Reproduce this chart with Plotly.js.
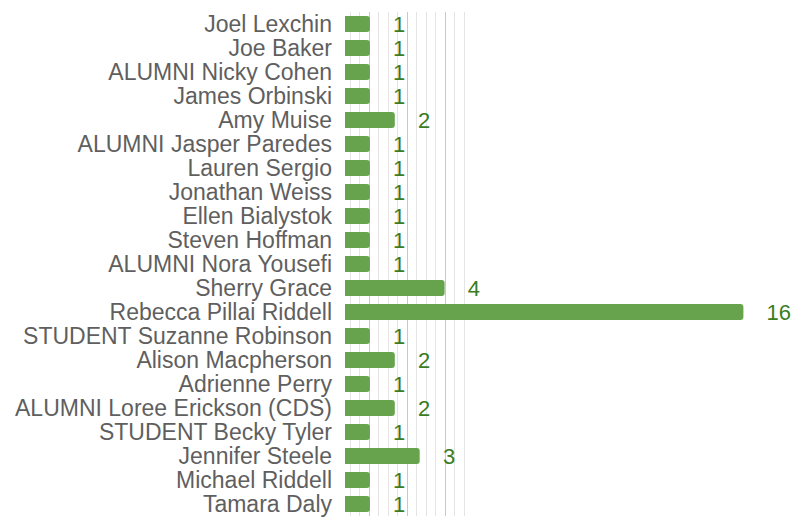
<!DOCTYPE html>
<html>
<head>
<meta charset="utf-8">
<script src="https://cdn.plot.ly/plotly-3.0.1.min.js"></script>
<style>html,body{margin:0;padding:0;background:#fff;}#chart{width:793px;height:517px;}</style>
</head>
<body>
<div id="chart"></div>
<script>
const names = [
  "Joel Lexchin", "Joe Baker", "ALUMNI Nicky Cohen", "James Orbinski", "Amy Muise",
  "ALUMNI Jasper Paredes", "Lauren Sergio", "Jonathan Weiss", "Ellen Bialystok",
  "Steven Hoffman", "ALUMNI Nora Yousefi", "Sherry Grace", "Rebecca Pillai Riddell",
  "STUDENT Suzanne Robinson", "Alison Macpherson", "Adrienne Perry",
  "ALUMNI Loree Erickson (CDS)", "STUDENT Becky Tyler", "Jennifer Steele",
  "Michael Riddell", "Tamara Daly"
];
const counts = [1, 1, 1, 1, 2, 1, 1, 1, 1, 1, 1, 4, 16, 1, 2, 1, 2, 1, 3, 1, 1];

const W = 793, L = 345, R = 0;
const plotW = W - L - R;
const pxPerUnit = 24.9;
const FONT = "Liberation Sans, Arial, sans-serif";

const data = [
  { type: "scatter", x: [], y: [], xaxis: "x", yaxis: "y", hoverinfo: "none", showlegend: false },
  {
    type: "bar",
    orientation: "h",
    y: names,
    x: counts,
    xaxis: "x2", yaxis: "y",
    marker: { color: "#67a24c", cornerradius: 3 },
    texttemplate: "\u00a0\u00a0\u00a0\u200a%{x}",
    textposition: "outside",
    constraintext: "none",
    cliponaxis: false,
    textfont: { family: FONT, size: 22, color: "#3a7d1f" },
    hoverinfo: "none"
  }
];

const gridW = 127;
const layout = {
  width: 793, height: 517,
  margin: { l: L, r: R, t: 8, b: 1, pad: 0 },
  paper_bgcolor: "#ffffff", plot_bgcolor: "rgba(0,0,0,0)",
  showlegend: false,
  bargap: 0.33,
  font: { family: FONT, size: 22, color: "#5f5f5f" },
  xaxis: {
    domain: [0, gridW / plotW],
    anchor: "y",
    range: [0, gridW],
    tick0: 24.3, dtick: 38,
    showgrid: true, gridcolor: "#c8c8c8", gridwidth: 1,
    minor: { tick0: 24.3, dtick: 9.5, showgrid: true, gridcolor: "#e4e4e4", gridwidth: 1 },
    zeroline: false, showticklabels: false, showline: false, ticks: ""
  },
  xaxis2: {
    domain: [0, 1],
    anchor: "y",
    range: [0, plotW / pxPerUnit],
    showgrid: false, zeroline: false, showticklabels: false, showline: false, ticks: ""
  },
  yaxis: {
    type: "category",
    domain: [0, 1 - 4 / 508],
    autorange: "reversed",
    tickmode: "linear", tick0: 0, dtick: 1,
    showgrid: false, zeroline: false, showline: false, ticks: "",
    ticklabelstandoff: 12,
    tickfont: { family: FONT, size: 23, color: "#5f5f5f" }
  }
};

Plotly.newPlot("chart", data, layout, { displayModeBar: false, staticPlot: true });
</script>
</body>
</html>
